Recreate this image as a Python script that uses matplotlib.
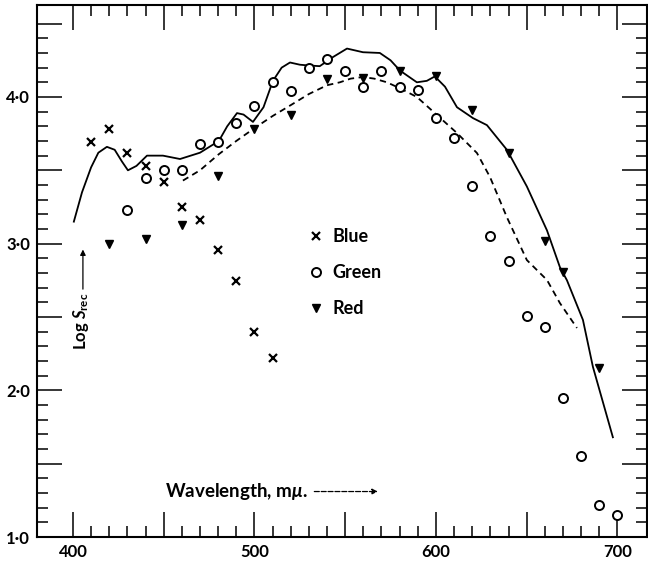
import matplotlib
matplotlib.use('Agg')
import matplotlib.pyplot as plt
from matplotlib.ticker import FixedLocator, MultipleLocator, FuncFormatter

plt.rcParams['font.family'] = ['Lato', 'DejaVu Sans']
plt.rcParams['font.weight'] = 'bold'
plt.rcParams['mathtext.fontset'] = 'custom'
plt.rcParams['mathtext.rm'] = 'Lato:bold'
plt.rcParams['mathtext.it'] = 'Lato:italic:bold'

# pontos (comprimento de onda em m-mu, log S_rec)
blue_wl = [410, 420, 430, 440, 450, 460, 470, 480, 490, 500, 510]
blue_log = [3.69, 3.78, 3.62, 3.53, 3.42, 3.25, 3.16, 2.96, 2.745, 2.40, 2.22]

green_wl = [430, 440, 450, 460, 470, 480, 490, 500, 510, 520, 530, 540, 550, 560,
            570, 580, 590, 600, 610, 620, 630, 640, 650, 660, 670, 680, 690, 700]
green_log = [3.23, 3.45, 3.50, 3.50, 3.68, 3.69, 3.82, 3.94, 4.10, 4.04, 4.20, 4.26, 4.18, 4.07,
             4.18, 4.07, 4.05, 3.86, 3.72, 3.39, 3.05, 2.88, 2.51, 2.43, 1.95, 1.55, 1.22, 1.15]

red_wl = [420, 440, 460, 480, 500, 520, 540, 560, 580, 600, 620, 640, 660, 670, 690]
red_log = [3.00, 3.03, 3.13, 3.46, 3.78, 3.88, 4.12, 4.13, 4.18, 4.14, 3.91, 3.62, 3.02, 2.81, 2.15]

# curva continua
solid_wl = [400.5, 405, 410, 414, 418.7, 423, 427, 430.3, 435, 440.8, 449.6, 459, 470, 480.4,
            485, 490.4, 494, 499.2, 505, 510.2, 515, 519.6, 525, 529.5, 536, 543, 551, 559.8,
            569.1, 575, 580.2, 589.5, 595, 599.4, 605, 611.6, 620.4, 628.1, 639.1, 650.1,
            661.2, 668.3, 672.2, 681, 686.5, 697.5]
solid_log = [3.15, 3.35, 3.52, 3.62, 3.66, 3.64, 3.56, 3.50, 3.53, 3.60, 3.60, 3.577, 3.62, 3.70,
             3.80, 3.89, 3.88, 3.83, 3.93, 4.11, 4.20, 4.235, 4.22, 4.215, 4.21, 4.27, 4.33, 4.305,
             4.30, 4.25, 4.18, 4.10, 4.11, 4.14, 4.07, 3.93, 3.856, 3.808, 3.64, 3.39,
             3.09, 2.84, 2.75, 2.48, 2.16, 1.68]

# curva tracejada
dash_wl = [460.6, 470, 480.4, 490, 500.3, 510, 520.1, 530, 540, 547.1, 553, 559.8, 566, 573,
           580, 589.5, 599.4, 611.6, 622.6, 629.8, 639.1, 650.1, 661.2, 668.3, 677.7]
dash_log = [3.43, 3.50, 3.61, 3.70, 3.79, 3.87, 3.945, 4.02, 4.08, 4.10, 4.125, 4.136, 4.125, 4.10,
            4.06, 4.00, 3.89, 3.754, 3.618, 3.454, 3.18, 2.888, 2.752, 2.595, 2.425]

fig = plt.figure(figsize=(6.48, 5.62), dpi=100)
ax = fig.add_axes([37/648, 25/562, 610/648, 532/562])

ax.plot(solid_wl, solid_log, color='black', lw=1.3)
ax.plot(dash_wl, dash_log, color='black', lw=1.3, ls=(0, (3.5, 2.5)))

hb, = ax.plot(blue_wl, blue_log, ls='none', marker='x', ms=5.5, mew=1.6, color='black')
hg, = ax.plot(green_wl, green_log, ls='none', marker='o', ms=6.5, mew=1.4, mfc='white', mec='black')
hr, = ax.plot(red_wl, red_log, ls='none', marker='v', ms=6, color='black')

ax.legend([hb, hg, hr], ['Blue', 'Green', 'Red'], loc='upper left',
          bbox_to_anchor=(309/648, 1 - 228/562), bbox_transform=fig.transFigure,
          frameon=False, numpoints=1, handlelength=0.75, handletextpad=0.55,
          labelspacing=1.05, borderpad=0, borderaxespad=0, fontsize=13)

ax.set_xlim(380.2, 716.3)
ax.set_ylim(1.0, 4.627)

# ticks para dentro em todos os lados
ax.xaxis.set_major_locator(FixedLocator([400, 450, 500, 550, 600, 650, 700]))
ax.xaxis.set_minor_locator(FixedLocator([w for w in range(400, 701, 10) if w % 50 != 0]))
ax.xaxis.set_major_formatter(FuncFormatter(lambda v, p: '%d' % v if v % 100 == 0 else ''))
ax.yaxis.set_major_locator(MultipleLocator(0.5))
ax.yaxis.set_minor_locator(FixedLocator([i / 10 for i in range(10, 46) if i % 5 != 0]))
ax.yaxis.set_major_formatter(FuncFormatter(lambda v, p: ('%.1f' % v).replace('.', '\u00b7') if v % 1 == 0 else ''))

ax.tick_params(which='both', direction='in', top=True, right=True, width=1.1, labelsize=12, pad=5)
ax.tick_params(which='major', length=18)
ax.tick_params(which='minor', length=8)

for t in ax.xaxis.get_major_ticks():
    if t.get_loc() % 100 != 0:
        t.tick1line.set_markersize(13)
        t.tick2line.set_markersize(13)
for t in ax.yaxis.get_major_ticks():
    if t.get_loc() % 1 != 0:
        t.tick1line.set_markersize(13)
        t.tick2line.set_markersize(12)

for s in ax.spines.values():
    s.set_linewidth(1.5)

# rotulos dos eixos com setas
ax.text(450.5, 1.31, r'Wavelength, m$\mathit{\mu}$.', fontsize=13.5, ha='left', va='center')
ax.annotate('', xy=(568, 1.31), xytext=(533, 1.31),
            arrowprops=dict(arrowstyle='-|>', color='black', lw=0.9, ls=(0, (4, 1.5)),
                            mutation_scale=8, shrinkA=0, shrinkB=0))
ax.text(404.4, 2.67, r'Log $\mathit{S}_{\mathrm{rec}}$', fontsize=12, rotation=90, ha='center', va='top')
ax.annotate('', xy=(405.5, 2.96), xytext=(405.5, 2.69),
            arrowprops=dict(arrowstyle='-|>', color='black', lw=0.9, mutation_scale=8,
                            shrinkA=0, shrinkB=0))

fig.savefig('out.png', dpi=100)
